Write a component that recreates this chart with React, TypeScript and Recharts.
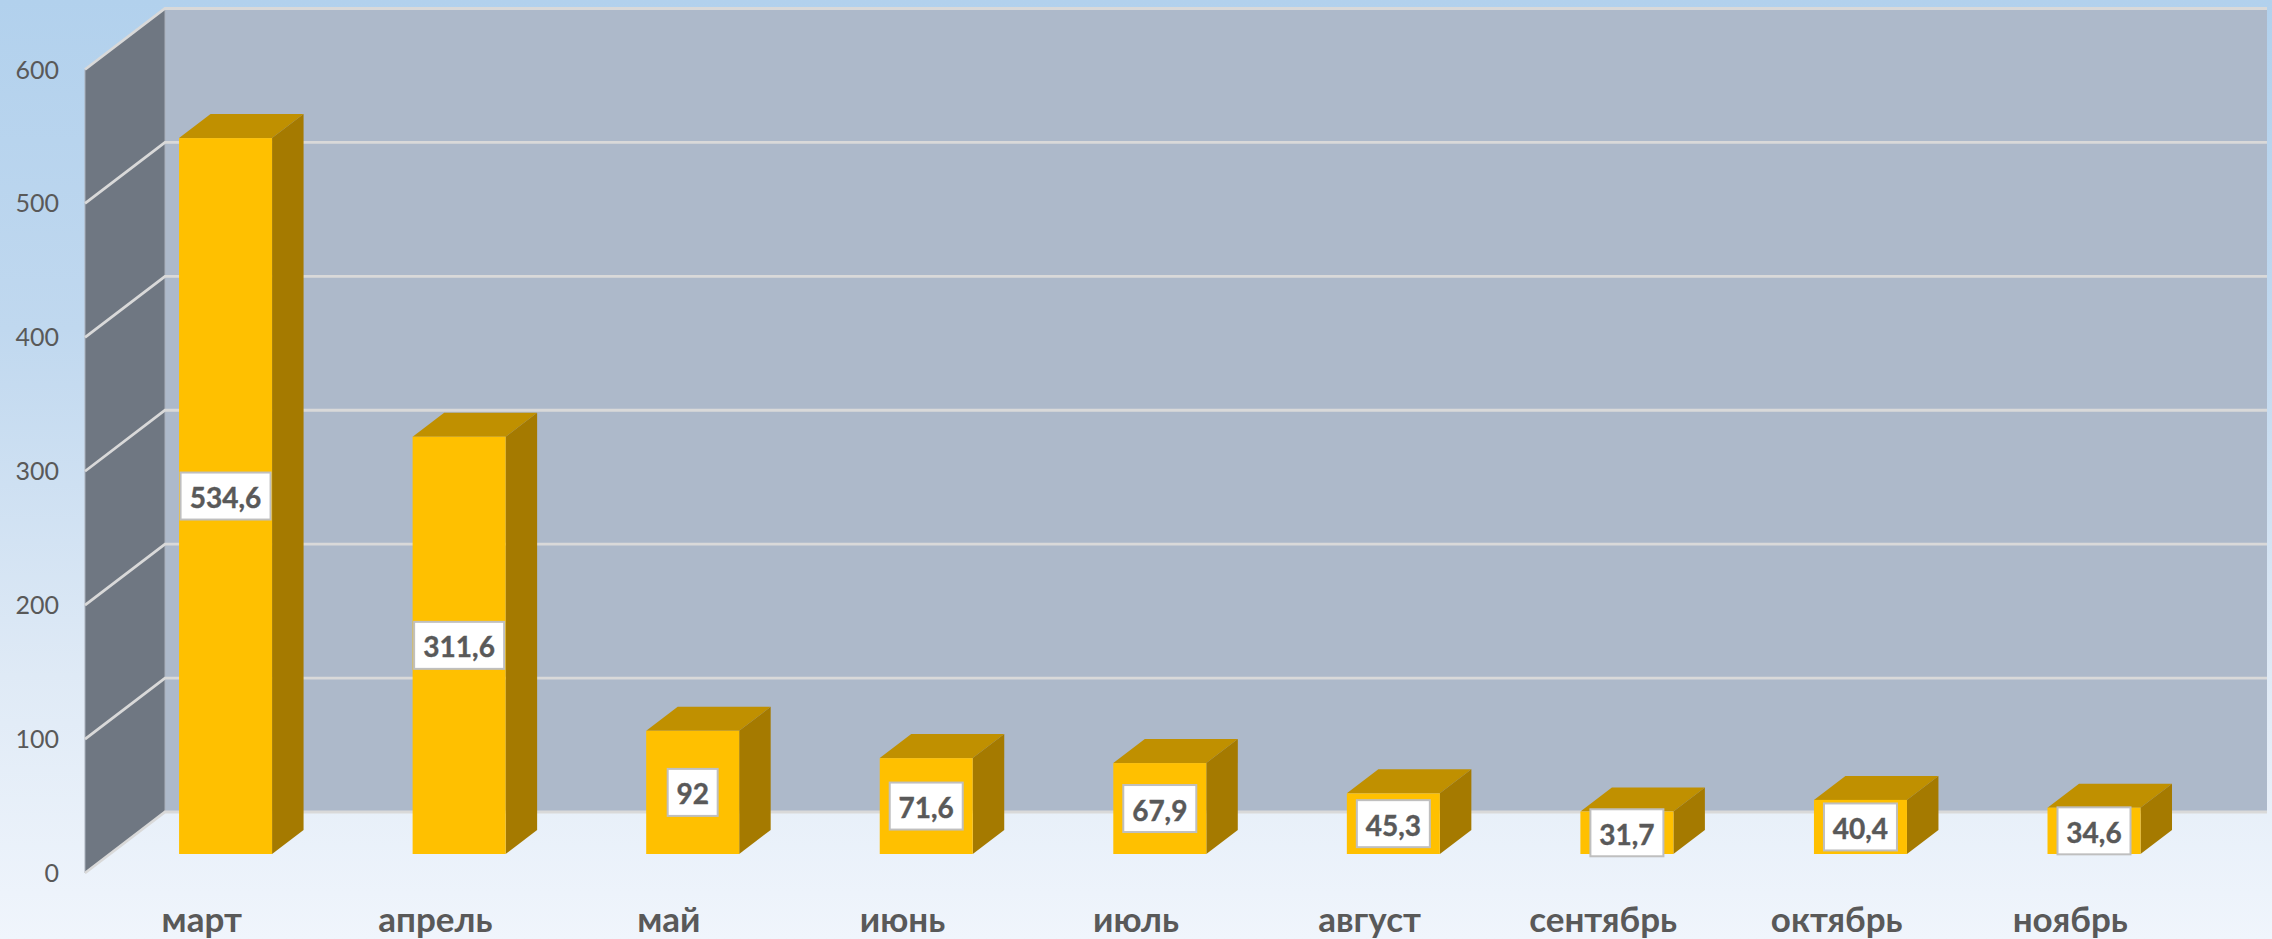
import React from 'react';
import { ComposedChart, Bar, XAxis, YAxis, CartesianGrid, ReferenceArea, LabelList } from 'recharts';

const months = ['март', 'апрель', 'май', 'июнь', 'июль', 'август', 'сентябрь', 'октябрь', 'ноябрь'];
const values = [534.6, 311.6, 92, 71.6, 67.9, 45.3, 31.7, 40.4, 34.6];
const yTicks = [0, 100, 200, 300, 400, 500, 600];
const data = months.map((month, i) => ({ month, value: values[i] }));

const W = 2272, H = 939;
const FONT = 'Lato, Carlito, sans-serif';
const TEXT = '#595959';
// projection of the chart's depth: bar plane -> front of the wall, -> back wall
const FRONT_DX = -24, FRONT_DY = 19, BACK_DX = 56, BACK_DY = -42;
const BAR_DX = 31.5, BAR_DY = 24;

const Walls = (p: any) => {
  const { x, y, width, height } = p;
  const l = x, t = y, b = y + height;
  const fx = l + FRONT_DX, bx = l + BACK_DX;
  return (
    <g>
      <rect x={bx} y={t + BACK_DY} width={width} height={height} fill="#adb9ca" />
      <polygon points={`${fx},${t + FRONT_DY} ${bx},${t + BACK_DY} ${bx},${b + BACK_DY} ${fx},${b + FRONT_DY}`} fill="#6f7782" stroke="#aab1bb" strokeWidth={1} />
    </g>
  );
};

const GridLine = (p: any) => {
  const { x1, x2, y1, key } = p;
  return (
    <polyline key={key} fill="none" stroke="#d9d9d9" strokeWidth={2.8}
      points={`${x1 + FRONT_DX},${y1 + FRONT_DY} ${x1 + BACK_DX},${y1 + BACK_DY} ${x2 + BACK_DX},${y1 + BACK_DY}`} />
  );
};

const Bar3D = (p: any) => {
  const { x, y, width, height } = p;
  const r = x + width, b = y + height;
  return (
    <g>
      <polygon points={`${x},${y} ${x + BAR_DX},${y - BAR_DY} ${r + BAR_DX},${y - BAR_DY} ${r},${y}`} fill="#c09000" />
      <polygon points={`${r},${y} ${r + BAR_DX},${y - BAR_DY} ${r + BAR_DX},${b - BAR_DY} ${r},${b}`} fill="#a57a00" />
      <rect x={x} y={y} width={width} height={height} fill="#ffc000" />
    </g>
  );
};

const ValueLabel = (p: any) => {
  const { x, y, width, height, value } = p;
  const s = String(value).replace('.', ',');
  const digits = s.replace(',', '').length;
  const bw = digits * 17 + (s.includes(',') ? 6 : 0) + 16;
  const bh = 47;
  const cx = x + width / 2, cy = y + height / 2;
  return (
    <g>
      <rect x={cx - bw / 2} y={cy - bh / 2} width={bw} height={bh} fill="#ffffff" stroke="#bfbfbf" strokeWidth={2} />
      <text x={cx} y={cy + 12} textAnchor="middle" fontFamily={FONT} fontWeight={700} fontSize={28} fill={TEXT} stroke={TEXT} strokeWidth={0.4}>{s}</text>
    </g>
  );
};

const XTick = (p: any) => (
  <text x={p.x + FRONT_DX} y={932} textAnchor="middle" fontFamily={FONT} fontWeight={700} fontSize={35} fill={TEXT}>{p.payload.value}</text>
);

const YTick = (p: any) => (
  <text x={59} y={p.y + FRONT_DY + 9} textAnchor="end" fontFamily={FONT} fontSize={25} fill={TEXT}>{p.payload.value}</text>
);

export default function App() {
  return (
    <div style={{ position: 'absolute', left: 0, top: 0, width: W, height: H, overflow: 'hidden', background: 'linear-gradient(180deg, #b2d1ed 0%, #c0d8ef 35%, #dfeaf6 72%, #f0f5fc 100%)' }}>
      <ComposedChart width={W} height={H} data={data} margin={{ top: 50.5, right: 61, bottom: 0, left: 0 }} barCategoryGap="30%">
        <ReferenceArea y1={0} y2={600} shape={Walls} ifOverflow="visible" zIndex={-200} />
        <CartesianGrid vertical={false} horizontal={GridLine as any} />
        <XAxis dataKey="month" height={85} axisLine={false} tickLine={false} tick={XTick as any} interval={0} />
        <YAxis width={109} domain={[0, 600]} ticks={yTicks} axisLine={false} tickLine={false} tick={YTick as any} interval={0} />
        <Bar dataKey="value" shape={Bar3D as any} isAnimationActive={false}>
          <LabelList dataKey="value" content={ValueLabel as any} />
        </Bar>
      </ComposedChart>
    </div>
  );
}
